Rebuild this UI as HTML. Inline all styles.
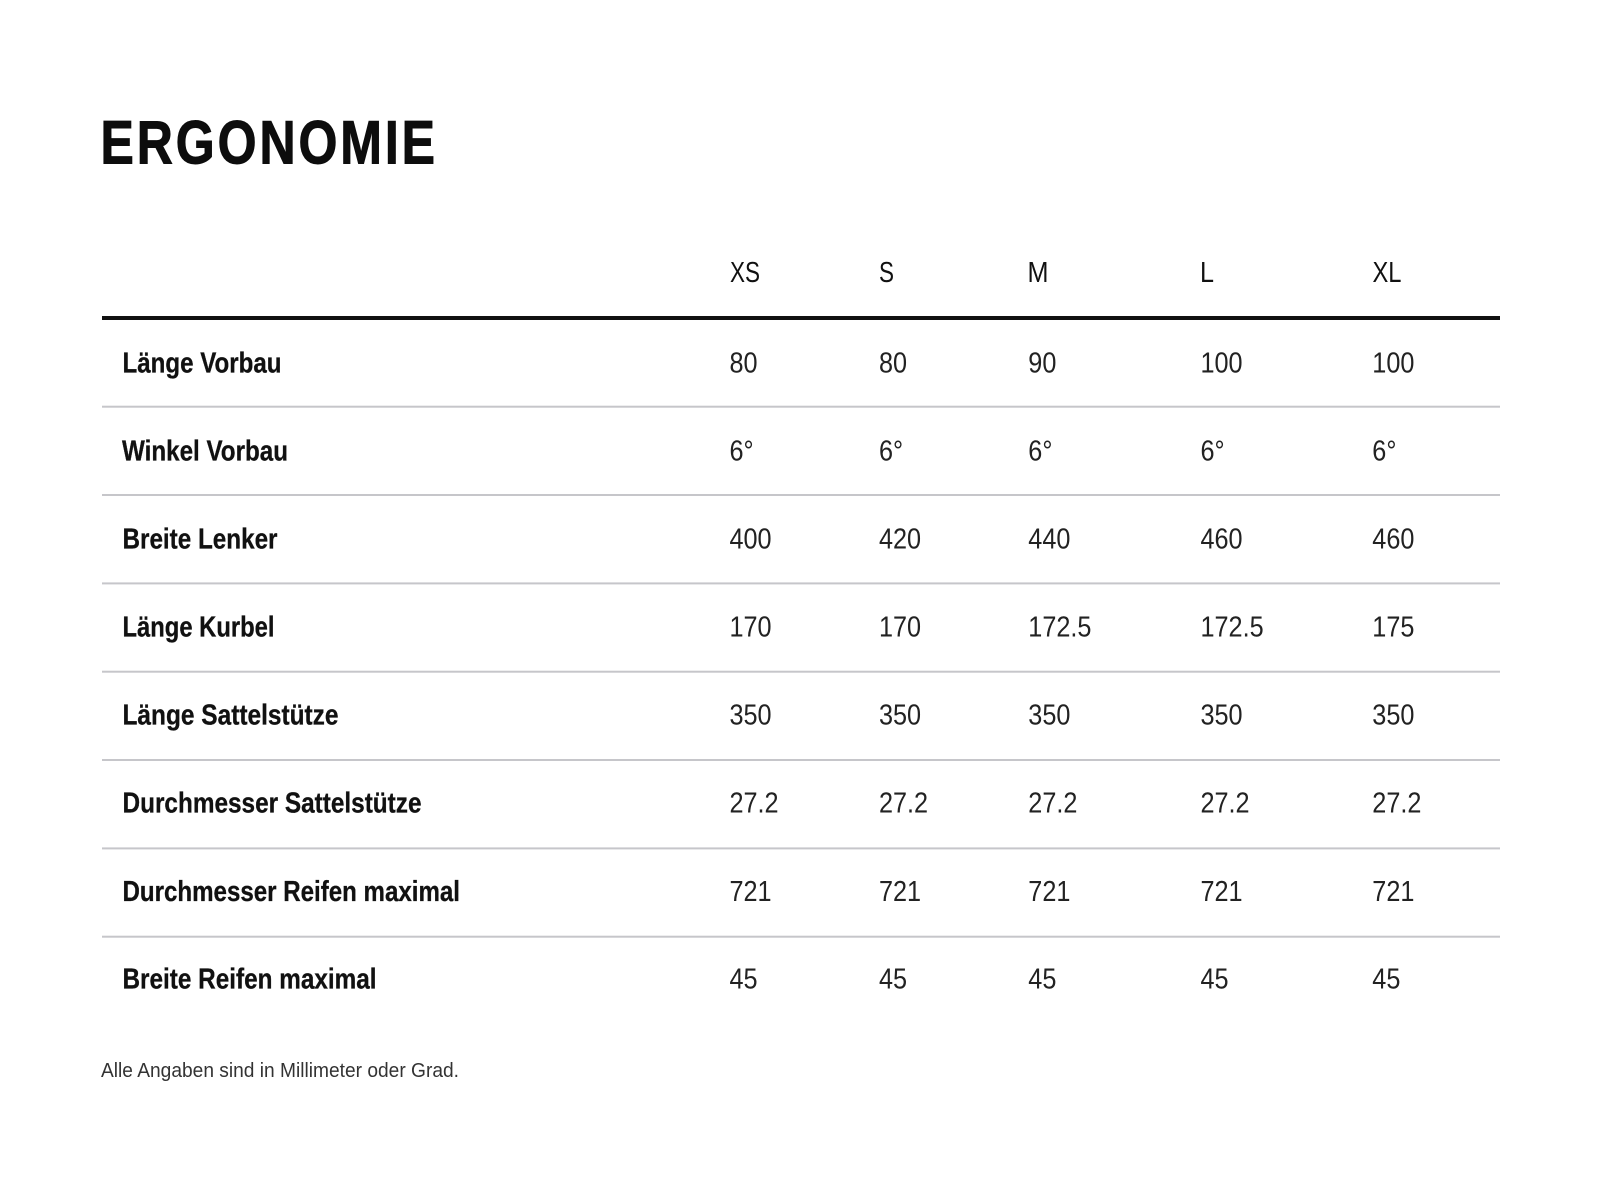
<!DOCTYPE html>
<html>
<head>
<meta charset="utf-8">
<style>
  html,body{margin:0;padding:0;background:#fff;}
  body{width:1600px;height:1200px;overflow:hidden;}
  svg{display:block;}
  text{font-family:"Liberation Sans", Arial, sans-serif;}
  .lbl{font-weight:bold;font-size:29px;fill:#111;stroke:#111;stroke-width:0.3;}
  .num{font-size:29px;fill:#222;}
  .hdr{font-size:29px;fill:#111;}
</style>
</head>
<body>
<svg width="1600" height="1200" viewBox="0 0 1600 1200" xmlns="http://www.w3.org/2000/svg">
  <rect x="0" y="0" width="1600" height="1200" fill="#fff"/>

  <!-- Title -->
  <text transform="translate(100.5,163.5) scale(0.82,1)" font-size="61" font-weight="bold" fill="#0d0d0d" stroke="#0d0d0d" stroke-width="1" textLength="408" lengthAdjust="spacing">ERGONOMIE</text>

  <!-- Header -->
  <text class="hdr" x="730" y="282" textLength="30" lengthAdjust="spacingAndGlyphs">XS</text>
  <text class="hdr" x="879" y="282" textLength="15" lengthAdjust="spacingAndGlyphs">S</text>
  <text class="hdr" x="1027.5" y="282" textLength="21" lengthAdjust="spacingAndGlyphs">M</text>
  <text class="hdr" x="1200" y="282" textLength="14" lengthAdjust="spacingAndGlyphs">L</text>
  <text class="hdr" x="1372.5" y="282" textLength="29" lengthAdjust="spacingAndGlyphs">XL</text>

  <!-- Thick rule -->
  <rect x="102" y="316" width="1398" height="4" fill="#111"/>

  <!-- Grey rules -->
  <g fill="#c6c6ca">
    <rect x="102" y="405.7" width="1398" height="2"/>
    <rect x="102" y="494.0" width="1398" height="2"/>
    <rect x="102" y="582.4" width="1398" height="2"/>
    <rect x="102" y="670.7" width="1398" height="2"/>
    <rect x="102" y="759.0" width="1398" height="2"/>
    <rect x="102" y="847.4" width="1398" height="2"/>
    <rect x="102" y="935.7" width="1398" height="2"/>
  </g>

  <!-- Row labels -->
  <text class="lbl" x="122.5" y="372.7" textLength="159" lengthAdjust="spacingAndGlyphs">Länge Vorbau</text>
  <text class="lbl" x="122" y="460.7" textLength="166" lengthAdjust="spacingAndGlyphs">Winkel Vorbau</text>
  <text class="lbl" x="122.5" y="548.7" textLength="155" lengthAdjust="spacingAndGlyphs">Breite Lenker</text>
  <text class="lbl" x="122.5" y="636.7" textLength="152" lengthAdjust="spacingAndGlyphs">Länge Kurbel</text>
  <text class="lbl" x="122.5" y="724.7" textLength="216" lengthAdjust="spacingAndGlyphs">Länge Sattelstütze</text>
  <text class="lbl" x="122.5" y="812.7" textLength="299" lengthAdjust="spacingAndGlyphs">Durchmesser Sattelstütze</text>
  <text class="lbl" x="122.5" y="900.9" textLength="337.5" lengthAdjust="spacingAndGlyphs">Durchmesser Reifen maximal</text>
  <text class="lbl" x="122.5" y="988.7" textLength="254" lengthAdjust="spacingAndGlyphs">Breite Reifen maximal</text>

  <!-- Row 1 -->
  <text class="num" transform="translate(729.5,372.7) scale(0.87,1)">80</text>
  <text class="num" transform="translate(879,372.7) scale(0.87,1)">80</text>
  <text class="num" transform="translate(1028.3,372.7) scale(0.87,1)">90</text>
  <text class="num" transform="translate(1200.5,372.7) scale(0.87,1)">100</text>
  <text class="num" transform="translate(1372.3,372.7) scale(0.87,1)">100</text>

  <!-- Row 2 -->
  <text class="num" transform="translate(729.5,460.7) scale(0.87,1)">6°</text>
  <text class="num" transform="translate(879,460.7) scale(0.87,1)">6°</text>
  <text class="num" transform="translate(1028.3,460.7) scale(0.87,1)">6°</text>
  <text class="num" transform="translate(1200.5,460.7) scale(0.87,1)">6°</text>
  <text class="num" transform="translate(1372.3,460.7) scale(0.87,1)">6°</text>

  <!-- Row 3 -->
  <text class="num" transform="translate(729.5,548.7) scale(0.87,1)">400</text>
  <text class="num" transform="translate(879,548.7) scale(0.87,1)">420</text>
  <text class="num" transform="translate(1028.3,548.7) scale(0.87,1)">440</text>
  <text class="num" transform="translate(1200.5,548.7) scale(0.87,1)">460</text>
  <text class="num" transform="translate(1372.3,548.7) scale(0.87,1)">460</text>

  <!-- Row 4 -->
  <text class="num" transform="translate(729.5,636.7) scale(0.87,1)">170</text>
  <text class="num" transform="translate(879,636.7) scale(0.87,1)">170</text>
  <text class="num" transform="translate(1028.3,636.7) scale(0.87,1)">172.5</text>
  <text class="num" transform="translate(1200.5,636.7) scale(0.87,1)">172.5</text>
  <text class="num" transform="translate(1372.3,636.7) scale(0.87,1)">175</text>

  <!-- Row 5 -->
  <text class="num" transform="translate(729.5,724.7) scale(0.87,1)">350</text>
  <text class="num" transform="translate(879,724.7) scale(0.87,1)">350</text>
  <text class="num" transform="translate(1028.3,724.7) scale(0.87,1)">350</text>
  <text class="num" transform="translate(1200.5,724.7) scale(0.87,1)">350</text>
  <text class="num" transform="translate(1372.3,724.7) scale(0.87,1)">350</text>

  <!-- Row 6 -->
  <text class="num" transform="translate(729.5,812.7) scale(0.87,1)">27.2</text>
  <text class="num" transform="translate(879,812.7) scale(0.87,1)">27.2</text>
  <text class="num" transform="translate(1028.3,812.7) scale(0.87,1)">27.2</text>
  <text class="num" transform="translate(1200.5,812.7) scale(0.87,1)">27.2</text>
  <text class="num" transform="translate(1372.3,812.7) scale(0.87,1)">27.2</text>

  <!-- Row 7 -->
  <text class="num" transform="translate(729.5,900.9) scale(0.87,1)">721</text>
  <text class="num" transform="translate(879,900.9) scale(0.87,1)">721</text>
  <text class="num" transform="translate(1028.3,900.9) scale(0.87,1)">721</text>
  <text class="num" transform="translate(1200.5,900.9) scale(0.87,1)">721</text>
  <text class="num" transform="translate(1372.3,900.9) scale(0.87,1)">721</text>

  <!-- Row 8 -->
  <text class="num" transform="translate(729.5,988.7) scale(0.87,1)">45</text>
  <text class="num" transform="translate(879,988.7) scale(0.87,1)">45</text>
  <text class="num" transform="translate(1028.3,988.7) scale(0.87,1)">45</text>
  <text class="num" transform="translate(1200.5,988.7) scale(0.87,1)">45</text>
  <text class="num" transform="translate(1372.3,988.7) scale(0.87,1)">45</text>

  <!-- Footnote -->
  <text x="101" y="1077" font-size="20" fill="#333" textLength="358" lengthAdjust="spacingAndGlyphs">Alle Angaben sind in Millimeter oder Grad.</text>
</svg>
</body>
</html>
